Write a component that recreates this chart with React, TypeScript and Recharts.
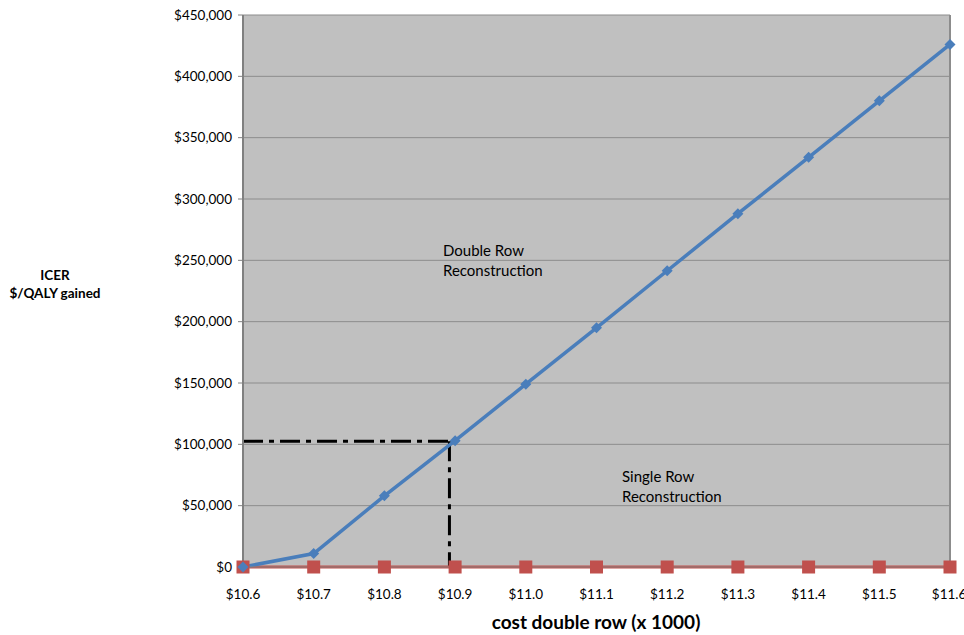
import { LineChart, Line, XAxis, YAxis, CartesianGrid, ReferenceLine } from "recharts";

// cost of double row repair (x $1000)
const costs = [10.6, 10.7, 10.8, 10.9, 11.0, 11.1, 11.2, 11.3, 11.4, 11.5, 11.6];
// ICER of double row vs single row, $/QALY gained
const doubleRow = [0, 11000, 58000, 103000, 149000, 195000, 241500, 288000, 334000, 380000, 426000];
// single row reconstruction is the reference strategy
const singleRow = [0, 0, 0, 0, 0, 0, 0, 0, 0, 0, 0];

const yTicks = [0, 50000, 100000, 150000, 200000, 250000, 300000, 350000, 400000, 450000];

// willingness-to-pay threshold and the matching cost
const threshold = 102500;
const thresholdCost = 10.892;

const data = costs.map((c, i) => ({ cost: c, double: doubleRow[i], single: singleRow[i] }));

const font = "Lato, 'Open Sans', sans-serif";

const Diamond = (props: any) => {
  const { cx, cy } = props;
  if (cx == null || cy == null) return null;
  const r = 5.5;
  return (
    <polygon
      points={`${cx},${cy - r} ${cx + r},${cy} ${cx},${cy + r} ${cx - r},${cy}`}
      fill="#4a7ebb"
    />
  );
};

const Square = (props: any) => {
  const { cx, cy } = props;
  if (cx == null || cy == null) return null;
  return <rect x={cx - 6.5} y={cy - 6.5} width={13} height={13} fill="#c0504d" />;
};

export default function App() {
  return (
    <div style={{ position: "absolute", left: 0, top: 0, width: 964, height: 635, background: "#fff", fontFamily: font }}>
      <LineChart
        width={964}
        height={635}
        data={data}
        margin={{ top: 15, right: 14, left: 143, bottom: 38 }}
      >
        <CartesianGrid vertical={false} fill="#c0c0c0" stroke="#8c8c8c" strokeWidth={1} />
        <XAxis
          dataKey="cost"
          type="number"
          domain={[10.6, 11.6]}
          ticks={costs}
          tickFormatter={(v: number) => `$${v.toFixed(1)}`}
          tickLine={false}
          tickMargin={16}
          height={30}
          axisLine={{ stroke: "#868686" }}
          tick={{ fill: "#000", fontSize: 13.5, fontFamily: font }}
        />
        <YAxis
          type="number"
          domain={[0, 450000]}
          ticks={yTicks}
          tickFormatter={(v: number) => `$${v.toLocaleString("en-US")}`}
          width={100}
          tickSize={5}
          tickMargin={6}
          axisLine={{ stroke: "#808080", strokeWidth: 2 }}
          tickLine={{ stroke: "#808080" }}
          tick={{ fill: "#000", fontSize: 13.5, fontFamily: font }}
        />
        <ReferenceLine x={11.6} stroke="#8c8c8c" strokeWidth={2} />
        <ReferenceLine
          segment={[{ x: 10.6, y: threshold }, { x: thresholdCost, y: threshold }]}
          stroke="#000"
          strokeWidth={3}
          strokeDasharray="20 6 5 6"
        />
        <ReferenceLine
          segment={[{ x: thresholdCost, y: threshold }, { x: thresholdCost, y: 0 }]}
          stroke="#000"
          strokeWidth={3}
          strokeDasharray="20 6 5 6"
        />
        <Line
          dataKey="single"
          stroke="#c0504d"
          strokeWidth={3}
          dot={<Square />}
          isAnimationActive={false}
        />
        <Line
          dataKey="double"
          stroke="#4a7ebb"
          strokeWidth={3.5}
          dot={<Diamond />}
          isAnimationActive={false}
        />
        <text x={443} y={256} fontSize={15} fontFamily={font} fill="#000">Double Row</text>
        <text x={443} y={276} fontSize={15} fontFamily={font} fill="#000">Reconstruction</text>
        <text x={622} y={482} fontSize={15} fontFamily={font} fill="#000">Single Row</text>
        <text x={622} y={502} fontSize={15} fontFamily={font} fill="#000">Reconstruction</text>
        <text x={55} y={280} fontSize={13.5} fontWeight="bold" fontFamily={font} textAnchor="middle" fill="#000">ICER</text>
        <text x={55} y={298} fontSize={13.5} fontWeight="bold" fontFamily={font} textAnchor="middle" fill="#000">$/QALY gained</text>
        <text x={596} y={629} fontSize={19} fontWeight="bold" fontFamily={font} textAnchor="middle" fill="#000">cost double row (x 1000)</text>
      </LineChart>
    </div>
  );
}
